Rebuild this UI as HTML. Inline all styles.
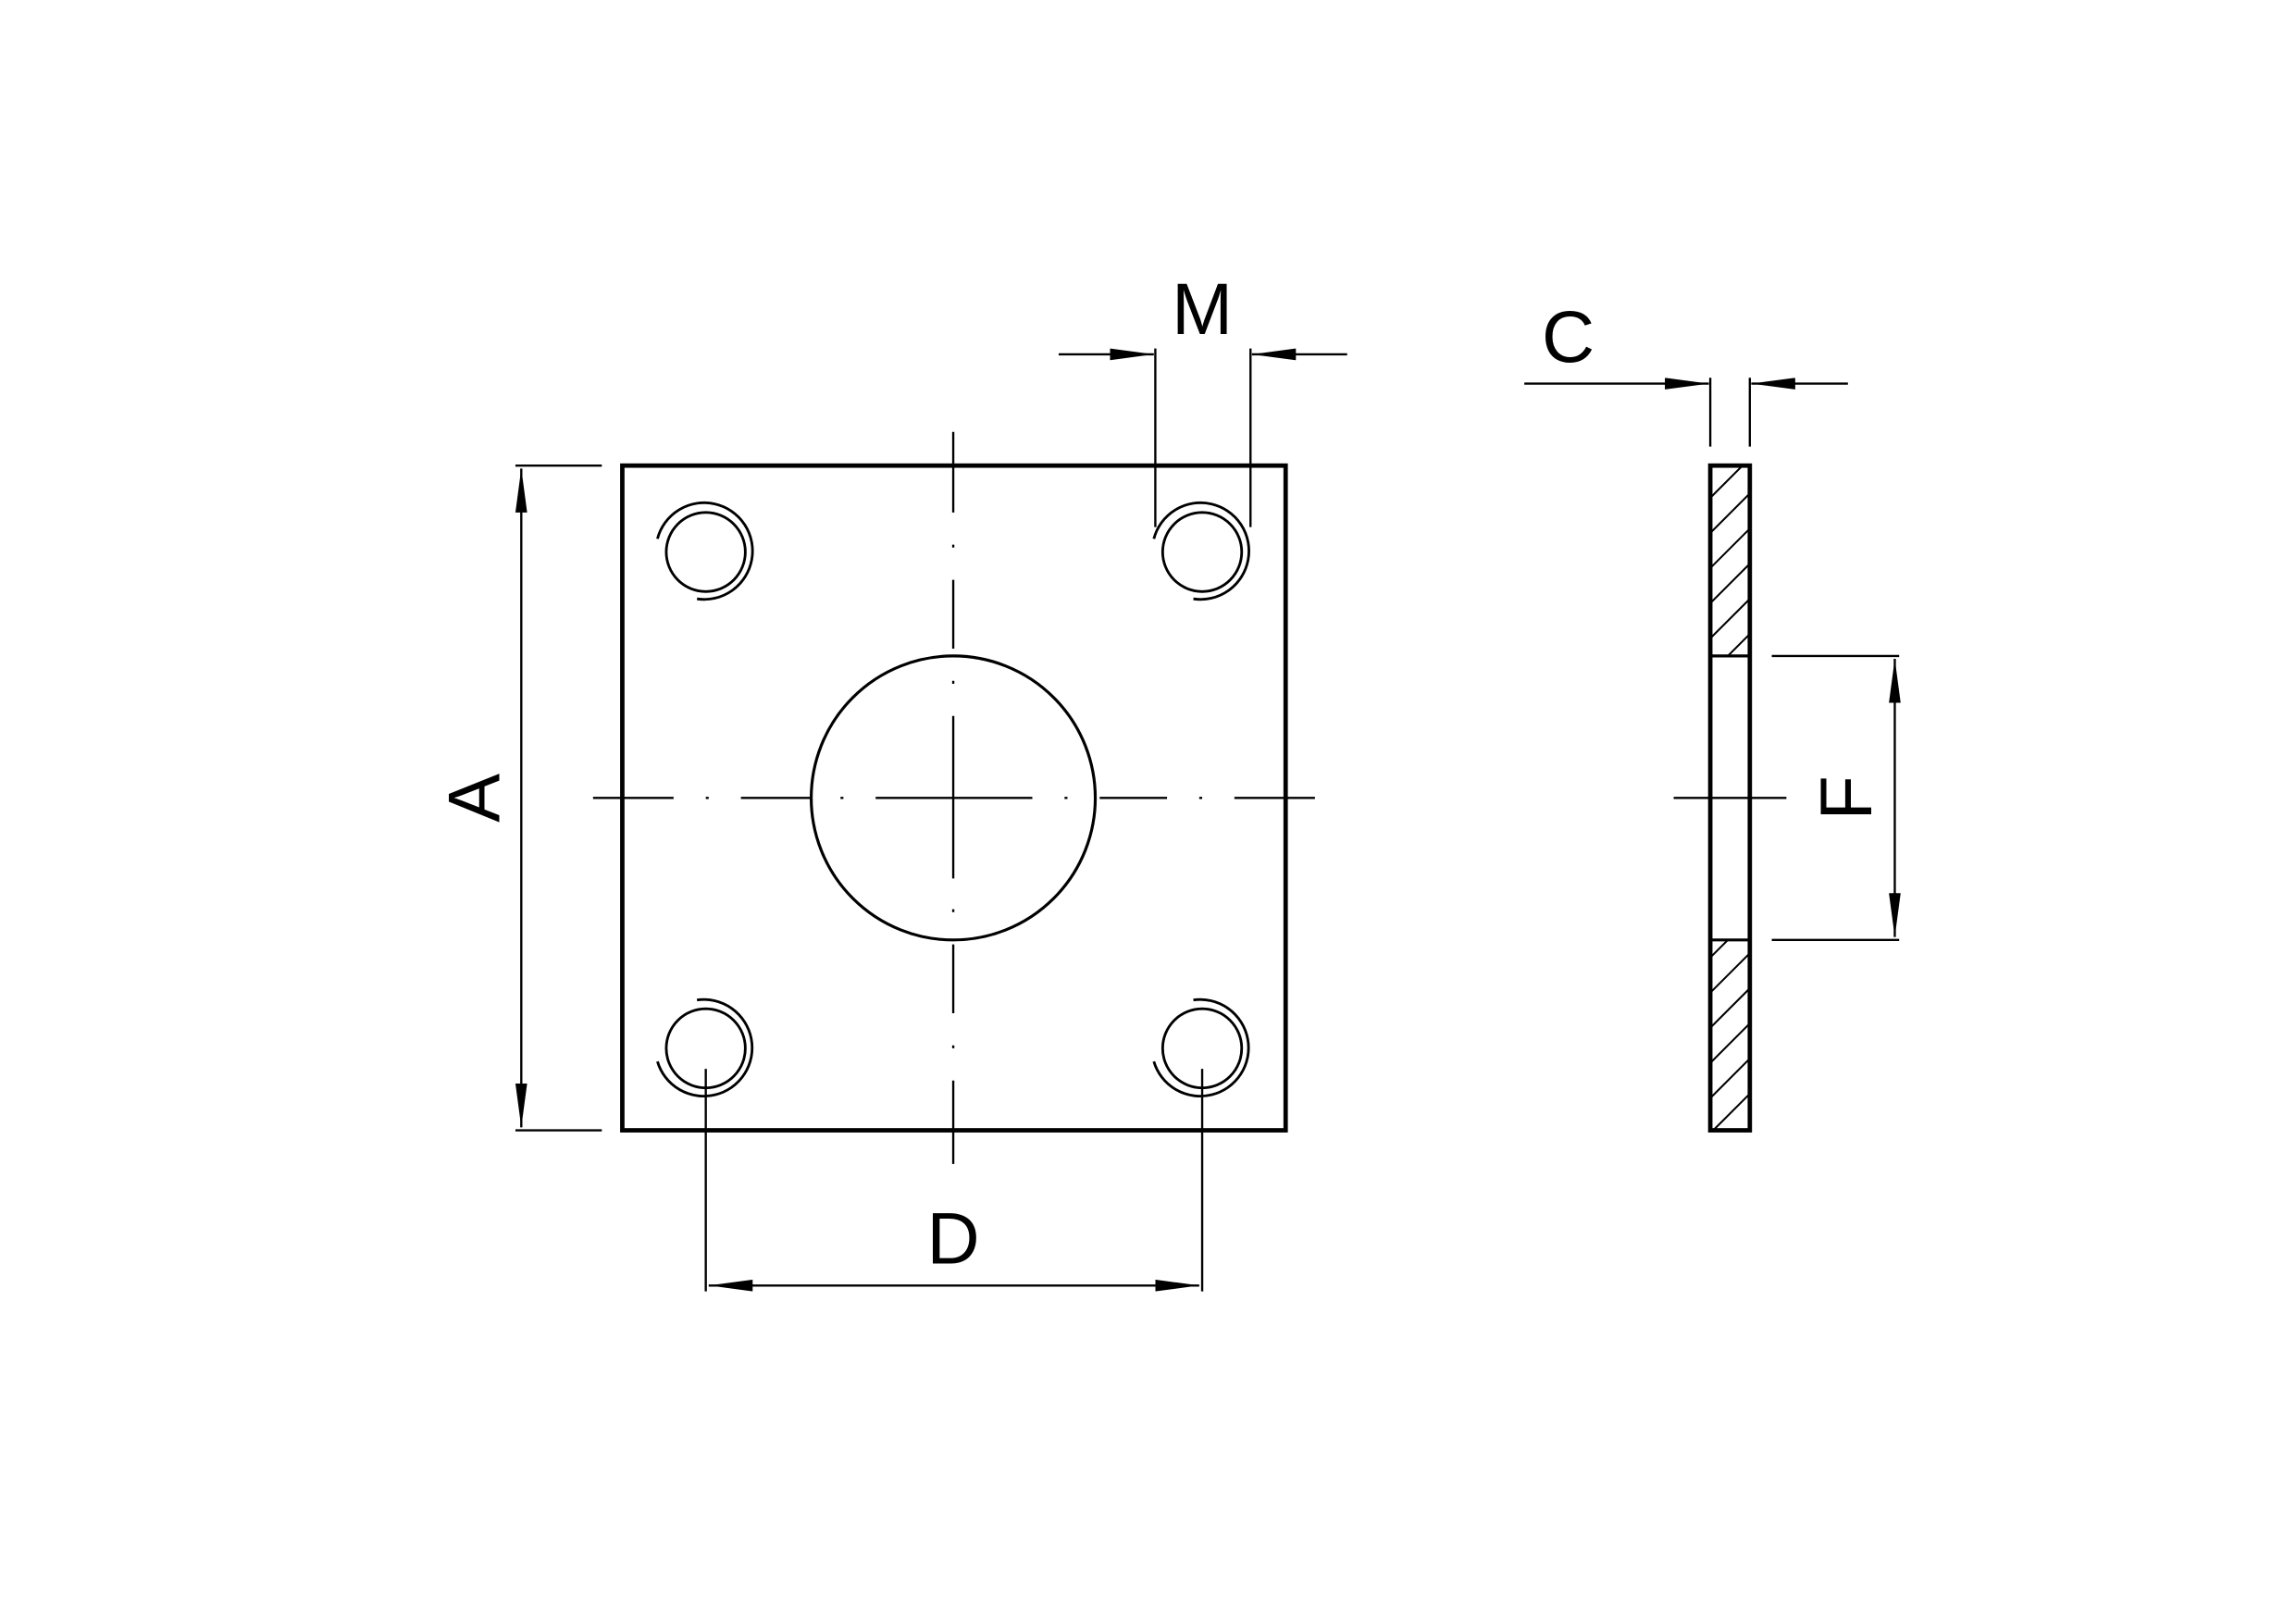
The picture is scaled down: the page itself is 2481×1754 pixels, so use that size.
<!DOCTYPE html>
<html><head><meta charset="utf-8"><style>
html,body{margin:0;padding:0;background:#fff;}
svg{display:block;}
text{font-family:"Liberation Sans",sans-serif;font-size:50px;fill:#000;}
</style></head><body>
<svg width="2481" height="1754" viewBox="0 0 1568 1108.5" xmlns="http://www.w3.org/2000/svg">
<defs>
<marker id="ar" viewBox="0 0 30 8" refX="30" refY="4" markerWidth="30" markerHeight="8" markerUnits="userSpaceOnUse" orient="auto-start-reverse">
<path d="M0,0 L30,4 L0,8 Z" fill="#000"/></marker>
<clipPath id="cu"><rect x="1168" y="318" width="27" height="130"/></clipPath>
<clipPath id="cl"><rect x="1168" y="642" width="27" height="130"/></clipPath>
</defs>
<g fill="none" stroke="#000">
<rect x="425" y="318" width="453" height="454" stroke-width="3"/>
<circle cx="651" cy="545" r="97" stroke-width="2"/>
<g stroke-width="1.5">
<path d="M405,545 H460 M482,545 H484 M506,545 H553 M574,545 H576 M598,545 H705 M727,545 H729 M751,545 H797 M819,545 H821 M843,545 H898"/>
<path d="M651,295 V350 M651,372 V374 M651,396 V443 M651,465 V467 M651,489 V600 M651,621 V623 M651,645 V692 M651,714 V716 M651,738 V795"/>
</g>
<g stroke-width="1.8">
<circle cx="482" cy="377" r="27"/><circle cx="821" cy="377" r="27"/>
<circle cx="482" cy="716" r="27"/><circle cx="821" cy="716" r="27"/>
<path d="M449,368 A33,33 0 1 1 476,409"/>
<path d="M788,368 A33,33 0 1 1 815,409"/>
<path d="M476,683 A33,33 0 1 1 449,725"/>
<path d="M815,683 A33,33 0 1 1 788,725"/>
</g>
<g stroke-width="1.5">
<line x1="352" y1="318" x2="411" y2="318"/>
<line x1="352" y1="772" x2="411" y2="772"/>
<line x1="356" y1="320" x2="356" y2="770" marker-start="url(#ar)" marker-end="url(#ar)"/>
<line x1="482" y1="730" x2="482" y2="882"/>
<line x1="821" y1="730" x2="821" y2="882"/>
<line x1="484" y1="878" x2="819" y2="878" marker-start="url(#ar)" marker-end="url(#ar)"/>
<line x1="789" y1="238" x2="789" y2="360"/>
<line x1="854" y1="238" x2="854" y2="360"/>
<line x1="723" y1="242" x2="788" y2="242" marker-end="url(#ar)"/>
<line x1="920" y1="242" x2="855" y2="242" marker-end="url(#ar)"/>
<line x1="1168" y1="258" x2="1168" y2="305"/>
<line x1="1195" y1="258" x2="1195" y2="305"/>
<line x1="1041" y1="262" x2="1167" y2="262" marker-end="url(#ar)"/>
<line x1="1262" y1="262" x2="1196" y2="262" marker-end="url(#ar)"/>
<line x1="1210" y1="448" x2="1297" y2="448"/>
<line x1="1210" y1="642" x2="1297" y2="642"/>
<line x1="1294" y1="450" x2="1294" y2="640" marker-start="url(#ar)" marker-end="url(#ar)"/>
<line x1="1143" y1="545" x2="1220" y2="545"/>
</g>
<g stroke-width="1.3">
<g clip-path="url(#cu)">
<path d="M1168,340 l30,-30 M1168,364 l30,-30 M1168,388 l30,-30 M1168,412 l30,-30 M1168,436 l30,-30 M1168,460 l30,-30"/>
</g>
<g clip-path="url(#cl)">
<path d="M1168,654 l30,-30 M1168,678 l30,-30 M1168,702 l30,-30 M1168,726 l30,-30 M1168,750 l30,-30 M1168,774 l30,-30"/>
</g>
</g>
<rect x="1168" y="318" width="27" height="454" stroke-width="3"/>
<line x1="1168" y1="448" x2="1195" y2="448" stroke-width="2"/>
<line x1="1168" y1="642" x2="1195" y2="642" stroke-width="2"/>
</g>
<text x="821" y="228" text-anchor="middle">M</text>
<text x="1071" y="247" text-anchor="middle">C</text>
<text x="651" y="863" text-anchor="middle">D</text>
<text transform="translate(341,545) rotate(-90)" text-anchor="middle">A</text>
<text transform="translate(1278,545) rotate(-90)" text-anchor="middle">F</text>
</svg>
</body></html>
